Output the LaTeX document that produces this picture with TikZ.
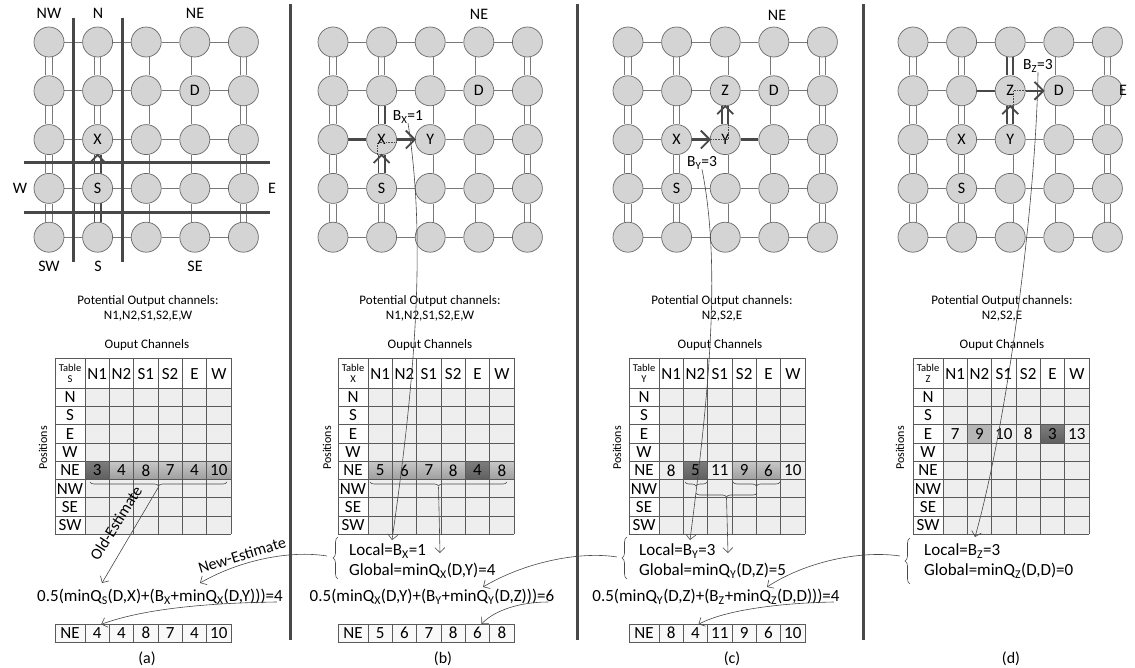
\documentclass[tikz,border=0pt]{standalone}
\usepackage{fontspec}
\setmainfont{Carlito}
\usetikzlibrary{arrows.meta,decorations.pathreplacing,backgrounds,calc}
\definecolor{nodefill}{RGB}{212,212,212}
\definecolor{nodeline}{RGB}{105,105,105}
\definecolor{linkc}{RGB}{120,120,120}
\definecolor{darkc}{RGB}{72,72,72}
\definecolor{bodyc}{RGB}{238,238,238}
\definecolor{medtop}{RGB}{200,200,200}
\definecolor{medbot}{RGB}{158,158,158}
\definecolor{darktop}{RGB}{125,125,125}
\definecolor{darkbot}{RGB}{95,95,95}
\definecolor{lightmed}{RGB}{182,182,182}
\definecolor{tlinec}{RGB}{90,90,90}
\newcommand{\fs}[1]{\fontsize{#1}{#1}\selectfont}
\tikzset{
  x=1pt, y=-1pt,
  router/.style={circle, draw=nodeline, fill=nodefill, minimum size=30pt, inner sep=0pt, line width=0.7pt},
  rlabel/.style={font=\fs{16}, inner sep=0pt},
  dirlabel/.style={font=\fs{16}, inner sep=0pt},
  hlink/.style={draw=linkc, line width=0.8pt},
  vlink/.style={draw=linkc, line width=0.8pt, double=white, double distance=5.5pt},
  hot/.style={draw=darkc, line width=2.2pt},
  hotv/.style={draw=darkc, line width=1.8pt, double=white, double distance=4.5pt},
  chev/.style={draw=darkc, line width=1.8pt},
  dotl/.style={draw=darkc, line width=0.6pt, densely dotted},
  sepline/.style={draw=darkc, line width=3pt},
  cutline/.style={draw=darkc, line width=3pt},
  tline/.style={draw=tlinec, line width=0.8pt},
  hdr/.style={font=\fs{17}, inner sep=0pt},
  rowl/.style={font=\fs{17}, inner sep=0pt},
  val/.style={font=\fs{17}, inner sep=0pt},
  tname/.style={font=\fontsize{10.5}{11}\selectfont, inner sep=0pt, align=center},
  capt/.style={font=\fontsize{13}{15}\selectfont, inner sep=0pt, align=center},
  blabel/.style={font=\fs{15.5}, inner sep=0pt},
  posl/.style={font=\fs{12}, inner sep=0pt, rotate=90},
  thinarrow/.style={draw=darkc, line width=0.6pt, -{Straight Barb[length=5pt,width=10pt]}},
  dbrace/.style={draw=darkc, line width=0.6pt, decorate, decoration={brace, mirror, amplitude=4pt}},
  lbrace/.style={draw=darkc, line width=0.6pt, decorate, decoration={brace, amplitude=5pt}},
  eq/.style={font=\fs{17}, inner sep=0pt},
  loc/.style={font=\fs{17}, inner sep=0pt, anchor=west},
  estl/.style={font=\fs{16}, inner sep=0pt},
  plabel/.style={font=\fs{16}, inner sep=0pt},
  med/.style={top color=medtop, bottom color=medbot},
  dk/.style={top color=darktop, bottom color=darkbot},
  lmed/.style={fill=lightmed},
}
\newcommand{\meshgrid}[2]{%
  \foreach \c in {1,...,5}{%
    \foreach \r in {1,...,5}{%
      \node[router] (#1\c\r) at ({#2+(\c-1)*48.6},{42+(\r-1)*48.8}) {};
    }%
  }%
  \begin{pgfonlayer}{background}
    \foreach \c/\cn in {1/2,2/3,3/4,4/5}{%
      \foreach \r in {1,...,5}{%
        \draw[hlink] (#1\c\r) -- (#1\cn\r);
      }%
    }%
    \foreach \c in {1,...,5}{%
      \foreach \r/\rn in {1/2,2/3,3/4,4/5}{%
        \draw[vlink] (#1\c\r) -- (#1\c\rn);
      }%
    }%
  \end{pgfonlayer}%
}
\newcommand{\qtable}[3]{%
  \begin{pgfonlayer}{background}
    \fill[white] (#2,358) rectangle (#2+176,534.4);
    \fill[bodyc] (#2+30,388) rectangle (#2+176,534.4);
  \end{pgfonlayer}
  \foreach \i in {0,...,6}{\draw[tline] ({#2+30+\i*24.33},358) -- ({#2+30+\i*24.33},534.4);}
  \draw[tline] (#2,358) -- (#2,534.4);
  \foreach \j in {0,...,8}{\draw[tline] (#2,{388+\j*18.3}) -- (#2+176,{388+\j*18.3});}
  \draw[tline] (#2,358) -- (#2+176,358);
  \node[tname] (#1t) at (#2+15,373) {Table\\#3};
  \foreach \h [count=\i] in {N1,N2,S1,S2,E,W}{\node[hdr] (#1h\i) at ({#2+30+(\i-0.5)*24.33},374) {\h};}
  \foreach \p [count=\j] in {N,S,E,W,NE,NW,SE,SW}{\node[rowl] (#1p\j) at (#2+15,{388+(\j-0.5)*18.3}) {\p};}
}
\newcommand{\shadecell}[4]{%
  \begin{pgfonlayer}{background}
    \path[#4] ({#1+30+(#2-1)*24.33},{388+(#3-1)*18.3}) rectangle ({#1+30+#2*24.33},{388+#3*18.3});
  \end{pgfonlayer}}
\newcommand{\qvals}[4]{%
  \foreach \v [count=\i] in {#4}{\node[val] (#1v\i) at ({#2+30+(\i-0.5)*24.33},{388+(#3-0.5)*18.3}) {\v};}}
\newcommand{\outrow}[3]{%
  \draw[tline, fill=gray!5] (#2,624) rectangle (#2+176,642);
  \foreach \i in {0,...,5}{\draw[tline] ({#2+30+\i*24.33},624) -- ({#2+30+\i*24.33},642);}
  \node[rowl] (#1ne) at (#2+15,633) {NE};
  \foreach \v [count=\i] in {#3}{\node[val] (#1\i) at ({#2+30+(\i-0.5)*24.33},633) {\v};}
}
\begin{document}
\begin{tikzpicture}
\begin{pgfonlayer}{background}
  \fill[white] (0,0) rectangle (1135,668);
\end{pgfonlayer}
\useasboundingbox (0,0) rectangle (1135,668);

% separators
\draw[sepline] (290,4) -- (290,640);
\draw[sepline] (577,4) -- (577,640);
\draw[sepline] (863,4) -- (863,640);

% ================= panel (a)
\meshgrid{a}{49}
\begin{pgfonlayer}{background}
  \draw[hotv] (a25) -- (a23);
\end{pgfonlayer}
\node[rlabel] (aD) at (a42) {D};
\node[rlabel] (aX) at (a23) {X};
\node[rlabel] (aS) at (a24) {S};
\draw[chev] ($(a23.south)+(-7,7)$) -- (a23.south) -- ($(a23.south)+(7,7)$);
\draw[cutline] (73,18) -- (73,262);
\draw[cutline] (122,18) -- (122,262);
\draw[cutline] (24,163) -- (270,163);
\draw[cutline] (24,213) -- (270,213);
\node[dirlabel] (aNW) at (49,13) {NW};
\node[dirlabel] (aN) at (98,13) {N};
\node[dirlabel] (aNE) at (195,13) {NE};
\node[dirlabel] (aW) at (20,188) {W};
\node[dirlabel] (aE) at (272,188) {E};
\node[dirlabel] (aSW) at (49,266) {SW};
\node[dirlabel] (aSS) at (98,266) {S};
\node[dirlabel] (aSE) at (195,266) {SE};

\node[capt] (ca) at (148,308.5) {Potential Output channels:\\N1,N2,S1,S2,E,W};
\node[capt] (oa) at (147,345) {Ouput Channels};
\qtable{ta}{55}{S}
\shadecell{55}{1}{5}{dk}
\foreach \k in {2,...,6}{\shadecell{55}{\k}{5}{med}}
\qvals{ta}{55}{5}{3,4,8,7,4,10}
\node[posl] (posa) at (43,448) {Positions};
\draw[dbrace] (90,482) -- (227,482);
\coordinate (aTip) at (158.5,487);
\coordinate (aOldEnd) at (102,583);
\draw[thinarrow] (aTip) -- (aOldEnd);
\node[estl, rotate=58] (oldEst) at (116,523) {Old-Estimate};
\node[eq] (fa) at (160,597) {0.5(minQ\textsubscript{S}(D,X)+(B\textsubscript{X}+minQ\textsubscript{X}(D,Y)))=4};
\outrow{ra}{55}{4,4,8,7,4,10}
\draw[thinarrow] ($(fa.east)+(-6,5)$) .. controls (200,603) and (140,610) .. ($(ra1.north)+(4,-3)$);
\node[plabel] (pa) at (147,659) {(a)};

% ================= panel (b)
\meshgrid{b}{333}
\begin{pgfonlayer}{background}
  \draw[hotv] (b24) -- (b23);
  \draw[hotv] (b22) -- (b23);
  \draw[hot] (b13) -- (b23);
  \draw[hot] (b23) -- (b33);
\end{pgfonlayer}
\node[rlabel] (bD) at (b42) {D};
\node[rlabel] (bX) at (b23) {X};
\node[rlabel] (bY) at (b33) {Y};
\node[rlabel] (bS) at (b24) {S};
\draw[dotl] ($(b23.south)+(-4,0)$) -- ($(b23.center)+(-4,3)$) -- ($(b23.east)+(0,3)$);
\draw[chev] ($(b23.south)+(-8,8)$) -- (b23.south) -- ($(b23.south)+(8,8)$);
\draw[chev] ($(b33.west)+(-9,-9)$) -- (b33.west) -- ($(b33.west)+(-9,9)$);
\node[blabel] (bB) at (408,117) {B\textsubscript{X}=1};
\node[dirlabel] (bNE) at (479,14) {NE};

\node[capt] (cb) at (430,308.5) {Potential Output channels:\\N1,N2,S1,S2,E,W};
\node[capt] (ob) at (430,345) {Ouput Channels};
\qtable{tb}{338}{X}
\foreach \k in {1,2,3,4,6}{\shadecell{338}{\k}{5}{med}}
\shadecell{338}{5}{5}{dk}
\qvals{tb}{338}{5}{5,6,7,8,4,8}
\node[posl] (posb) at (327,448) {Positions};
\draw[dbrace] (370,482) -- (507,482);
\coordinate (bTip) at (438.5,487);
\coordinate (bLocEnd) at (440,553);
\draw[thinarrow] (bTip) -- (bLocEnd);
\coordinate (bLongEnd) at (392,540);
\draw[thinarrow] (bB.south) .. controls (428,250) and (412,400) .. (bLongEnd);
\draw[lbrace] (338,579) -- (338,537);
\node[loc] (bLocal) at (349,551) {Local=B\textsubscript{X}=1};
\node[loc] (bGlobal) at (349,571) {Global=minQ\textsubscript{X}(D,Y)=4};
\coordinate (bBr) at (327,556);
\coordinate (aNewEnd) at (200,583);
\draw[thinarrow] (bBr) .. controls (290,550) and (240,560) .. (aNewEnd);
\node[estl, rotate=17] (newEst) at (242,555) {New-Estimate};
\node[eq] (fb) at (432,597) {0.5(minQ\textsubscript{X}(D,Y)+(B\textsubscript{Y}+minQ\textsubscript{Y}(D,Z)))=6};
\outrow{rb}{338}{5,6,7,8,6,8}
\draw[thinarrow] ($(fb.east)+(-6,5)$) .. controls (520,602) and (495,610) .. ($(rb5.north)+(4,-3)$);
\node[plabel] (pb) at (443,659) {(b)};

% ================= panel (c)
\meshgrid{c}{628}
\begin{pgfonlayer}{background}
  \draw[hot] (c23) -- (c33);
  \draw[hotv] (c33) -- (c32);
  \draw[hot] (c33) -- (c43);
\end{pgfonlayer}
\node[rlabel] (cX) at (c23) {X};
\node[rlabel] (cY) at (c33) {Y};
\node[rlabel] (cZ) at (c32) {Z};
\node[rlabel] (cD) at (c42) {D};
\node[rlabel] (cS) at (c24) {S};
\draw[dotl] (c33.west) -- ($(c33.center)+(3,0)$) -- ($(c33.north)+(3,0)$);
\draw[chev] ($(c33.west)+(-9,-9)$) -- (c33.west) -- ($(c33.west)+(-9,9)$);
\draw[chev] ($(c32.south)+(-8,8)$) -- (c32.south) -- ($(c32.south)+(8,8)$);
\node[blabel] (cB) at (702,163) {B\textsubscript{Y}=3};
\node[dirlabel] (cNE) at (777,15) {NE};

\node[capt] (cc) at (722,308.5) {Potential Output channels:\\N2,S2,E};
\node[capt] (oc) at (720,345) {Ouput Channels};
\qtable{tc}{629}{Y}
\shadecell{629}{2}{5}{dk}
\shadecell{629}{4}{5}{med}
\shadecell{629}{5}{5}{med}
\qvals{tc}{629}{5}{8,5,11,9,6,10}
\node[posl] (posc) at (617,448) {Positions};
\draw[dbrace] (685,482) -- (707,482);
\draw[dbrace] (733,482) -- (780,482);
\draw[dbrace] (696,493) -- (757,493);
\coordinate (cTip) at (726.5,498);
\coordinate (cLocEnd) at (728,553);
\draw[thinarrow] (cTip) -- (cLocEnd);
\coordinate (cLongEnd) at (690,540);
\draw[thinarrow] (cB.south) .. controls (722,270) and (708,400) .. (cLongEnd);
\draw[lbrace] (627,579) -- (627,537);
\node[loc] (cLocal) at (639,551) {Local=B\textsubscript{Y}=3};
\node[loc] (cGlobal) at (639,571) {Global=minQ\textsubscript{Y}(D,Z)=5};
\coordinate (cBr) at (617,557);
\coordinate (bNewEnd) at (483,587);
\draw[thinarrow] (cBr) .. controls (580,551) and (525,562) .. (bNewEnd);
\node[eq] (fc) at (716,597) {0.5(minQ\textsubscript{Y}(D,Z)+(B\textsubscript{Z}+minQ\textsubscript{Z}(D,D)))=4};
\outrow{rc}{629}{8,4,11,9,6,10}
\draw[thinarrow] ($(fc.east)+(-6,5)$) .. controls (780,603) and (725,610) .. ($(rc2.north)+(3,-3)$);
\node[plabel] (pc) at (732,659) {(c)};

% ================= panel (d)
\meshgrid{d}{913}
\begin{pgfonlayer}{background}
  \draw[hotv] (d33) -- (d32);
  \draw[hotv] (d31) -- (d32);
  \draw[hot] (d22) -- (d32);
  \draw[hot] (d32) -- (d42);
\end{pgfonlayer}
\node[rlabel] (dX) at (d23) {X};
\node[rlabel] (dY) at (d33) {Y};
\node[rlabel] (dZ) at (d32) {Z};
\node[rlabel] (dD) at (d42) {D};
\node[rlabel] (dS) at (d24) {S};
\draw[dotl] ($(d32.south)+(3,0)$) -- ($(d32.center)+(3,0)$) -- (d32.east);
\draw[chev] ($(d32.south)+(-8,8)$) -- (d32.south) -- ($(d32.south)+(8,8)$);
\draw[chev] ($(d42.west)+(-9,-9)$) -- (d42.west) -- ($(d42.west)+(-9,9)$);
\node[blabel] (dB) at (1038,66) {B\textsubscript{Z}=3};
\node[dirlabel] (dE) at (1123,90) {E};

\node[capt] (cd) at (1002,308.5) {Potential Output channels:\\N2,S2,E};
\node[capt] (od) at (1002,345) {Ouput Channels};
\qtable{td}{913}{Z}
\shadecell{913}{2}{3}{lmed}
\shadecell{913}{5}{3}{dk}
\qvals{td}{913}{3}{7,9,10,8,3,13}
\node[posl] (posd) at (900,448) {Positions};
\coordinate (dLongEnd) at (975,537);
\draw[thinarrow] (dB.south) .. controls (1036,200) and (1008,420) .. (dLongEnd);
\draw[lbrace] (910,584) -- (910,538);
\node[loc] (dLocal) at (924,551) {Local=B\textsubscript{Z}=3};
\node[loc] (dGlobal) at (924,571) {Global=minQ\textsubscript{Z}(D,D)=0};
\coordinate (dBr) at (900,556);
\coordinate (cNewEnd) at (767,587);
\draw[thinarrow] (dBr) .. controls (860,550) and (805,562) .. (cNewEnd);
\node[plabel] (pd) at (1011,659) {(d)};
\end{tikzpicture}
\end{document}
